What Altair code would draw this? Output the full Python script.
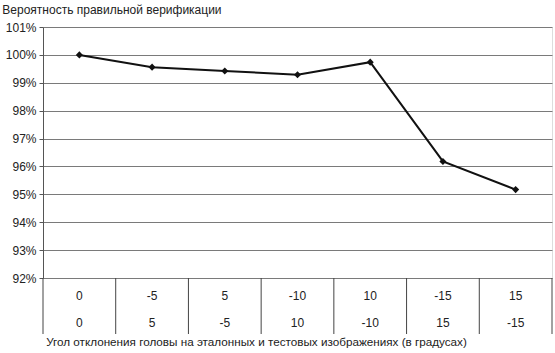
import altair as alt
import pandas as pd

ref_angles = ["0", "-5", "5", "-10", "10", "-15", "15"]
test_angles = ["0", "5", "-5", "10", "-10", "15", "-15"]
values = [100.0, 99.56, 99.42, 99.29, 99.74, 96.18, 95.17]
y_ticks = [92, 93, 94, 95, 96, 97, 98, 99, 100, 101]

W, H = 509, 251
FONT = "Liberation Sans"

df = pd.DataFrame({"i": list(range(len(values))), "v": values,
                   "r": ref_angles, "t": test_angles})
sep = pd.DataFrame({"b": list(range(len(values) + 1))})

xs = alt.Scale(domain=[0, len(values)], nice=False, zero=False)
ys = alt.Scale(domain=[y_ticks[0], y_ticks[-1]], nice=False, zero=False)
yaxis = alt.Axis(
    values=y_ticks, tickCount=len(y_ticks), labelOverlap=False,
    labelExpr="datum.value + '%'", title=None,
    grid=True, gridColor="#7a7a7a", gridWidth=1, tickColor="#555",
    tickSize=4, domainColor="#555", labelFont=FONT, labelFontSize=12,
    labelColor="#222", labelPadding=3)

base = alt.Chart(df).transform_calculate(xc="datum.i + 0.5")

line = base.mark_line(color="#111", strokeWidth=2).encode(
    x=alt.X("xc:Q", scale=xs, axis=None),
    y=alt.Y("v:Q", scale=ys, axis=yaxis),
)
pts = base.mark_point(shape="diamond", filled=True, color="#111", size=50, opacity=1).encode(
    x=alt.X("xc:Q", scale=xs, axis=None), y=alt.Y("v:Q", scale=ys, axis=yaxis))

row1 = base.mark_text(font=FONT, fontSize=12, color="#222").encode(
    x=alt.X("xc:Q", scale=xs, axis=None), y=alt.value(H + 18), text="r:N")
row2 = base.mark_text(font=FONT, fontSize=12, color="#222").encode(
    x=alt.X("xc:Q", scale=xs, axis=None), y=alt.value(H + 45), text="t:N")

seps = alt.Chart(sep).mark_rule(color="#444", strokeWidth=1).encode(
    x=alt.X("b:Q", scale=xs, axis=None), y=alt.value(H), y2=alt.value(H + 56))

xtitle = alt.Chart(pd.DataFrame({"s": ["Угол отклонения головы на эталонных и тестовых изображениях (в градусах)"]})).mark_text(
    font=FONT, fontSize=11.7, color="#222").encode(
    x=alt.value(W / 2 - 41), y=alt.value(H + 64), text="s:N")

chart = alt.layer(line, pts, seps, row1, row2, xtitle).properties(
    width=W, height=H,
    padding={"left": 43, "top": 27, "right": 3, "bottom": 75},
    autosize=alt.AutoSizeParams(type="none"),
    title=alt.TitleParams("Вероятность правильной верификации", anchor="start",
                          frame="bounds", font=FONT, fontSize=12, fontWeight="normal",
                          color="#222", dx=-3, dy=-4, offset=0),
).configure_view(stroke="#7a7a7a", strokeWidth=1).configure(background="white")

chart.save("out.html", embed_options={"renderer": "svg", "actions": False})
